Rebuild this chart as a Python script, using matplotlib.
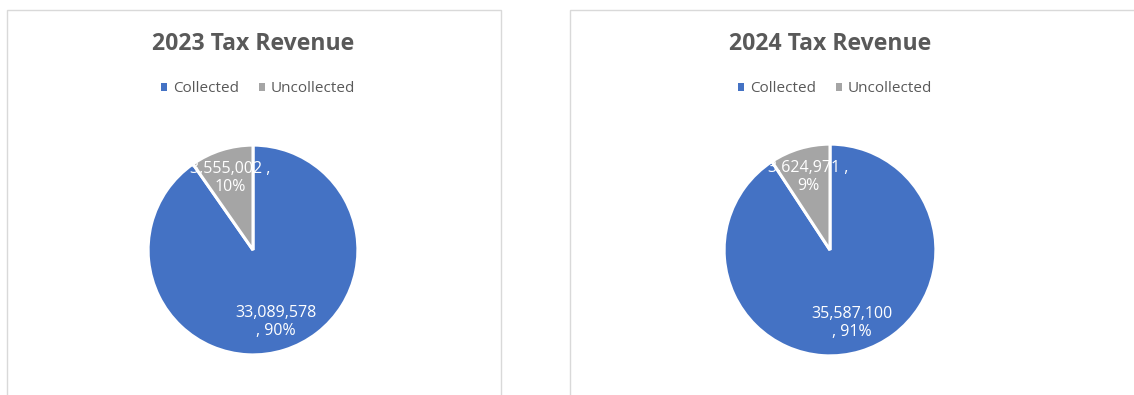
import matplotlib
matplotlib.use("Agg")
import matplotlib.pyplot as plt
from matplotlib.patches import Rectangle

# Tax revenue by year: collected vs. uncollected amounts
years = ["2023", "2024"]
categories = ["Collected", "Uncollected"]
collected = [33089578, 35587100]
uncollected = [3555002, 3624971]

colors = ["#4472C4", "#A5A5A5"]
text_grey = "#595959"
font = "Open Sans"

W, H = 1134, 395
fig = plt.figure(figsize=(W / 100, H / 100), dpi=100)
fig.patch.set_facecolor("white")


def fx(px):
    return px / W


def fy(py):
    return 1 - py / H


# Chart-area frames (pixel boxes: left, top, right, bottom)
frames = [(7, 10, 501, 400), (570, 10, 1140, 400)]
for (l, t, r, b) in frames:
    fig.patches.append(Rectangle((fx(l), fy(b)), fx(r - l), fy(t) - fy(b),
                                 transform=fig.transFigure, fill=False,
                                 edgecolor="#d9d9d9", linewidth=1.0))

# Pie geometry per panel: centre x, centre y, radius (pixels)
pies = [(253, 250, 107), (830, 250, 108)]
# Where each slice's label wraps onto a second line
wraps = ["\n, ", " ,\n"]

for i, year in enumerate(years):
    values = [collected[i], uncollected[i]]
    total = sum(values)
    cx, cy, r = pies[i]
    ax = fig.add_axes([fx(cx - r), fy(cy + r), fx(2 * r), fy(cy - r) - fy(cy + r)])
    ax.set_aspect("equal")

    labels = [f"{v:,}{wraps[k]}{round(100 * v / total):.0f}%"
              for k, v in enumerate(values)]
    wedges, texts = ax.pie(values, colors=colors, startangle=90, counterclock=False,
                           labels=labels, labeldistance=0.72,
                           wedgeprops=dict(edgecolor="white", linewidth=2.2),
                           textprops=dict(color="white", fontsize=11.5,
                                          family=font, ha="center", va="center",
                                          linespacing=1.2))
    for t in texts:
        t.set_horizontalalignment("center")
    ax.set_xlim(-1.02, 1.02)
    ax.set_ylim(-1.02, 1.02)

    fig.text(fx(cx), fy(44), f"{year} Tax Revenue", ha="center", va="center",
             fontsize=16.6, fontweight="bold", color=text_grey, family=font)

    leg = fig.legend(wedges, categories, loc="center",
                     bbox_to_anchor=(fx(cx + 5), fy(89)), ncol=2, frameon=False,
                     handlelength=0.4, handleheight=0.4, handletextpad=0.4,
                     columnspacing=1.3,
                     prop=dict(family=font, size=11))
    for t in leg.get_texts():
        t.set_color(text_grey)
    for h in leg.legend_handles:
        h.set_edgecolor("none")

fig.savefig("out.png", dpi=100, facecolor="white")
